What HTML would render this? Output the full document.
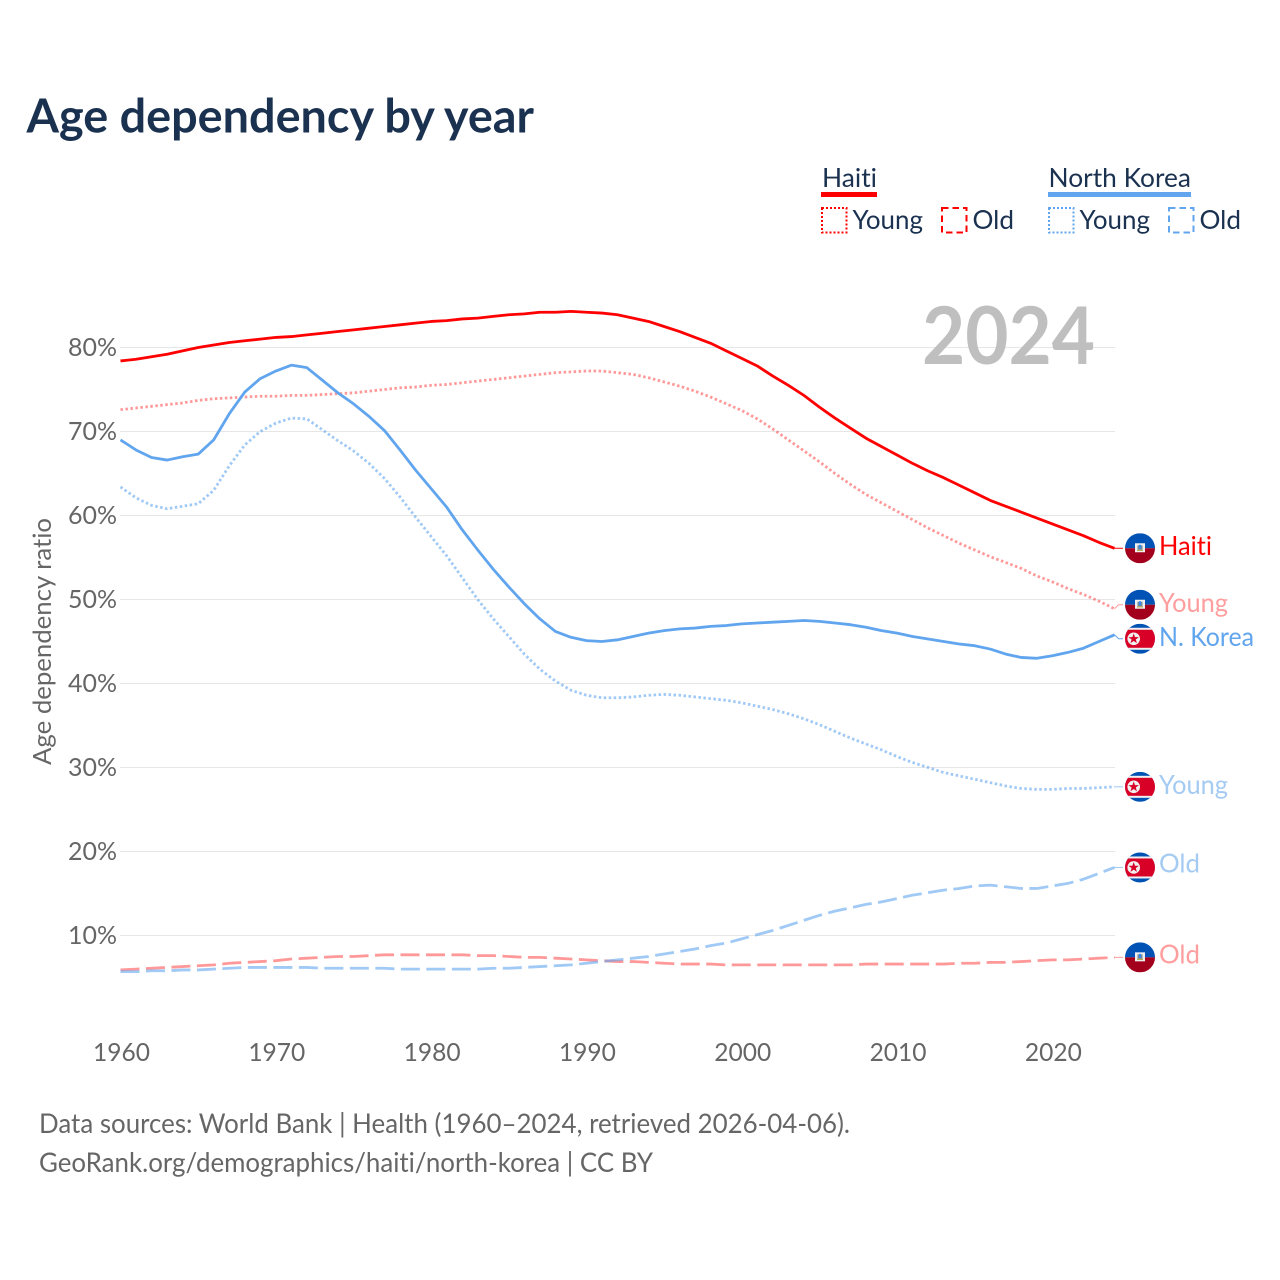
<!DOCTYPE html>
<html lang="en">
<head>
<meta charset="utf-8">
<title>Age dependency by year</title>
<style>
html,body{margin:0;padding:0;background:#fff;}
svg{display:block;font-family:"Lato","Carlito","Liberation Sans",sans-serif;font-variant-ligatures:none;}
</style>
</head>
<body>
<svg id="chart" xmlns="http://www.w3.org/2000/svg" width="1280" height="1280" viewBox="0 0 1280 1280">
  <defs>
    <clipPath id="flag-clip"><circle cx="0" cy="0" r="15"/></clipPath>
    <g id="haiti-flag">
      <g clip-path="url(#flag-clip)">
        <rect x="-15" y="-15" width="30" height="15" fill="#0052b4"/>
        <rect x="-15" y="0" width="30" height="15" fill="#a2001d"/>
        <rect x="-5" y="-5" width="10" height="9" fill="#f0f0f0"/>
        <rect x="-2.5" y="-3" width="5" height="4.5" fill="#6d8a9c"/>
        <rect x="-1" y="-3.5" width="2" height="4" fill="#338af3"/>
        <rect x="-3" y="1.5" width="6" height="1.2" fill="#b8a94a"/>
      </g>
    </g>
    <g id="korea-flag">
      <g clip-path="url(#flag-clip)">
        <rect x="-15" y="-15" width="30" height="30" fill="#0052b4"/>
        <rect x="-15" y="-11" width="30" height="22" fill="#f0f0f0"/>
        <rect x="-15" y="-9" width="30" height="18" fill="#d80027"/>
        <circle cx="-6.3" cy="0" r="6.3" fill="#f0f0f0"/>
        <polygon points="-6.3,-5.4 -5,-1.7 -1.1,-1.7 -4.2,0.7 -3.1,4.4 -6.3,2.2 -9.5,4.4 -8.4,0.7 -11.5,-1.7 -7.6,-1.7" fill="#d80027"/>
      </g>
    </g>
  </defs>

  <rect x="0" y="0" width="1280" height="1280" fill="#ffffff"/>

  <text x="26.5" y="132.5" font-size="47" font-weight="700" fill="#1a3150" textLength="507.5" lengthAdjust="spacingAndGlyphs">Age dependency by year</text>

  <g font-size="26.5" fill="#1a3150">
    <text x="822" y="187" textLength="55" lengthAdjust="spacingAndGlyphs">Haiti</text>
    <rect x="821" y="192" width="56" height="5" fill="#ff0000"/>
    <rect x="822" y="208" width="24.5" height="24.5" fill="none" stroke="#ff0000" stroke-width="2" stroke-dasharray="2 2"/>
    <text x="852.5" y="229" textLength="70.5" lengthAdjust="spacingAndGlyphs">Young</text>
    <rect x="942" y="208" width="24.5" height="24.5" fill="none" stroke="#ff0000" stroke-width="2" stroke-dasharray="6.5 4"/>
    <text x="972.5" y="229" textLength="41.5" lengthAdjust="spacingAndGlyphs">Old</text>

    <text x="1048.5" y="187" textLength="142.5" lengthAdjust="spacingAndGlyphs">North Korea</text>
    <rect x="1048" y="192" width="143" height="5" fill="#60a5ee"/>
    <rect x="1049" y="208" width="24.5" height="24.5" fill="none" stroke="#60a5ee" stroke-width="2" stroke-dasharray="2 2"/>
    <text x="1079.5" y="229" textLength="70.5" lengthAdjust="spacingAndGlyphs">Young</text>
    <rect x="1169" y="208" width="24.5" height="24.5" fill="none" stroke="#60a5ee" stroke-width="2" stroke-dasharray="6.5 4"/>
    <text x="1199.5" y="229" textLength="41.5" lengthAdjust="spacingAndGlyphs">Old</text>
  </g>

  <g id="grid"></g>
  <g id="y-axis"></g>
  <g id="x-axis"></g>

  <text x="922" y="364" font-size="80" font-weight="700" fill="#bfbfbf" textLength="173" lengthAdjust="spacingAndGlyphs">2024</text>

  <text transform="translate(51,765) rotate(-90)" x="0" y="0" font-size="25" fill="#666666" textLength="247" lengthAdjust="spacingAndGlyphs">Age dependency ratio</text>

  <g id="series"></g>
  <g id="end-labels"></g>

  <g font-size="27" fill="#666666">
    <text x="39" y="1133" textLength="811" lengthAdjust="spacingAndGlyphs">Data sources: World Bank | Health (1960–2024, retrieved 2026-04-06).</text>
    <text x="39" y="1172" textLength="614" lengthAdjust="spacingAndGlyphs">GeoRank.org/demographics/haiti/north-korea | CC BY</text>
  </g>
</svg>

<script>
const startYear = 1960;
const xTickYears = [1960, 1970, 1980, 1990, 2000, 2010, 2020];
const yTickValues = [10, 20, 30, 40, 50, 60, 70, 80];

const haitiTotal = [78.4,78.6,78.9,79.2,79.6,80.0,80.3,80.6,80.8,81.0,81.2,81.3,81.5,81.7,81.9,82.1,82.3,82.5,82.7,82.9,83.1,83.2,83.4,83.5,83.7,83.9,84.0,84.2,84.2,84.3,84.2,84.1,83.9,83.5,83.1,82.5,81.9,81.2,80.5,79.6,78.7,77.8,76.6,75.5,74.3,72.9,71.6,70.4,69.2,68.2,67.2,66.2,65.3,64.5,63.6,62.7,61.8,61.1,60.4,59.7,59.0,58.3,57.6,56.8,56.1];
const haitiYoung = [72.6,72.8,73.0,73.2,73.4,73.7,73.9,74.0,74.1,74.2,74.2,74.3,74.3,74.4,74.5,74.6,74.8,75.0,75.2,75.3,75.5,75.6,75.8,76.0,76.2,76.4,76.6,76.8,77.0,77.1,77.2,77.2,77.0,76.8,76.4,75.9,75.4,74.8,74.1,73.3,72.5,71.5,70.3,69.0,67.7,66.4,65.0,63.7,62.5,61.5,60.5,59.5,58.5,57.6,56.7,55.9,55.1,54.4,53.7,52.8,52.1,51.3,50.6,49.8,48.9];
const koreaTotal = [69.0,67.8,66.9,66.6,67.0,67.3,69.0,72.1,74.7,76.3,77.2,77.9,77.6,76.1,74.6,73.3,71.8,70.1,67.8,65.4,63.2,61.0,58.3,55.9,53.6,51.5,49.5,47.7,46.2,45.5,45.1,45.0,45.2,45.6,46.0,46.3,46.5,46.6,46.8,46.9,47.1,47.2,47.3,47.4,47.5,47.4,47.2,47.0,46.7,46.3,46.0,45.6,45.3,45.0,44.7,44.5,44.1,43.5,43.1,43.0,43.3,43.7,44.2,45.0,45.8];
const koreaYoung = [63.4,62.1,61.2,60.8,61.1,61.4,63.0,65.9,68.4,70.0,71.0,71.6,71.5,70.2,68.9,67.7,66.2,64.4,62.2,59.8,57.5,55.2,52.6,50.0,47.7,45.6,43.5,41.7,40.3,39.2,38.6,38.3,38.3,38.4,38.6,38.7,38.6,38.4,38.2,38.0,37.7,37.3,36.9,36.4,35.8,35.1,34.3,33.5,32.8,32.1,31.3,30.6,30.0,29.4,29.0,28.6,28.2,27.8,27.5,27.4,27.4,27.5,27.5,27.6,27.7];
const koreaOld = [5.7,5.7,5.8,5.8,5.9,5.9,6.0,6.1,6.2,6.2,6.2,6.2,6.2,6.1,6.1,6.1,6.1,6.1,6.0,6.0,6.0,6.0,6.0,6.0,6.1,6.1,6.2,6.3,6.4,6.5,6.7,6.9,7.1,7.3,7.5,7.8,8.1,8.4,8.8,9.1,9.6,10.1,10.6,11.2,11.8,12.4,12.9,13.3,13.7,14.0,14.4,14.8,15.1,15.4,15.6,15.9,16.0,15.8,15.6,15.6,15.9,16.2,16.7,17.4,18.1];
const haitiOld = [5.9,6.0,6.1,6.2,6.3,6.4,6.5,6.7,6.8,6.9,7.0,7.2,7.3,7.4,7.5,7.5,7.6,7.7,7.7,7.7,7.7,7.7,7.7,7.6,7.6,7.5,7.4,7.4,7.3,7.2,7.1,7.0,6.9,6.9,6.8,6.7,6.6,6.6,6.6,6.5,6.5,6.5,6.5,6.5,6.5,6.5,6.5,6.5,6.6,6.6,6.6,6.6,6.6,6.6,6.7,6.7,6.8,6.8,6.9,7.0,7.1,7.1,7.2,7.3,7.4];

const labelHaiti = "Haiti";
const labelKorea = "N. Korea";
const labelYoung = "Young";
const labelOld = "Old";

const SVGNS = "http://www.w3.org/2000/svg";
const xPos = year => 120.5 + (year - startYear) * (994 / 64);
const yPos = value => 1019.5 - value * 8.4;

function make(tag, parent) {
  const el = document.createElementNS(SVGNS, tag);
  parent.appendChild(el);
  return el;
}

const gridGroup = document.getElementById("grid");
const yGroup = document.getElementById("y-axis");
const xGroup = document.getElementById("x-axis");
const seriesGroup = document.getElementById("series");
const labelGroup = document.getElementById("end-labels");

yTickValues.forEach(v => {
  const line = make("line", gridGroup);
  
  
  line.setAttribute("x1", 120);
  line.setAttribute("x2", 1115);
  line.setAttribute("y1", yPos(v));
  line.setAttribute("y2", yPos(v));
  line.setAttribute("stroke", "#e6e6e6");
  line.setAttribute("stroke-width", 1);

  const t = make("text", yGroup);
  
  
  t.setAttribute("x", 68);
  t.setAttribute("y", yPos(v) + 8.5);
  t.setAttribute("font-size", 25);
  t.setAttribute("fill", "#666666");
  t.setAttribute("textLength", 49);
  t.setAttribute("lengthAdjust", "spacingAndGlyphs");
  t.textContent = v + "%";
});

xTickYears.forEach(y => {
  const t = make("text", xGroup);
  
  
  t.setAttribute("x", xPos(y) - 27.5);
  t.setAttribute("y", 1061);
  t.setAttribute("font-size", 25);
  t.setAttribute("fill", "#666666");
  t.setAttribute("textLength", 57);
  t.setAttribute("lengthAdjust", "spacingAndGlyphs");
  t.textContent = y;
});

function drawSeries(values, name, color, opacity, dash, width, flagId, text, textColor, textWidth, dodge, textShift) {
  const d = values.map((v, i) => (i ? "L" : "M") + xPos(startYear + i).toFixed(2) + " " + yPos(v).toFixed(2)).join(" ");
  const line = make("path", seriesGroup);
  
  
  line.setAttribute("d", d);
  line.setAttribute("fill", "none");
  line.setAttribute("stroke", color);
  line.setAttribute("stroke-opacity", opacity);
  line.setAttribute("stroke-width", width);
  line.setAttribute("stroke-linejoin", "round");
  if (dash) line.setAttribute("stroke-dasharray", dash);

  const lastValue = values[values.length - 1];
  const endX = xPos(startYear + values.length - 1);
  const endY = yPos(lastValue);
  const labelY = endY + dodge;

  const connector = make("polyline", labelGroup);
  
  
  connector.setAttribute("points", endX + "," + endY + " " + (endX + 4) + "," + labelY + " 1123," + labelY);
  connector.setAttribute("fill", "none");
  connector.setAttribute("stroke", color);
  connector.setAttribute("stroke-opacity", opacity);
  connector.setAttribute("stroke-width", 1);

  const flag = make("use", labelGroup);
  
  
  flag.setAttribute("href", "#" + flagId);
  flag.setAttribute("x", 1140);
  flag.setAttribute("y", labelY);

  const t = make("text", labelGroup);
  
  
  t.setAttribute("x", 1159);
  t.setAttribute("y", labelY + 7 + textShift);
  t.setAttribute("font-size", 26.5);
  t.setAttribute("fill", textColor);
  t.setAttribute("textLength", textWidth);
  t.setAttribute("lengthAdjust", "spacingAndGlyphs");
  t.textContent = text;
}

drawSeries(haitiOld, "haiti-old", "#ff0000", 0.4, "19 6.5", 2.8, "haiti-flag", labelOld, "#ff9e9e", 41, 0, -1);
drawSeries(koreaOld, "korea-old", "#60a5ee", 0.6, "19 6.5", 2.8, "korea-flag", labelOld, "#a5cbf3", 41, 0, -2);
drawSeries(koreaYoung, "korea-young", "#60a5ee", 0.6, "2.5 2.5", 2.8, "korea-flag", labelYoung, "#a5cbf3", 69, 0, 0);
drawSeries(haitiYoung, "haiti-young", "#ff0000", 0.4, "2.5 2.5", 2.8, "haiti-flag", labelYoung, "#ff9e9e", 69, -4, 0.5);
drawSeries(koreaTotal, "korea-total", "#60a5ee", 1, "", 2.8, "korea-flag", labelKorea, "#60a5ee", 95, 4, 0);
drawSeries(haitiTotal, "haiti-total", "#ff0000", 1, "", 2.8, "haiti-flag", labelHaiti, "#ff0000", 53, 0, -0.5);
</script>
</body>
</html>
